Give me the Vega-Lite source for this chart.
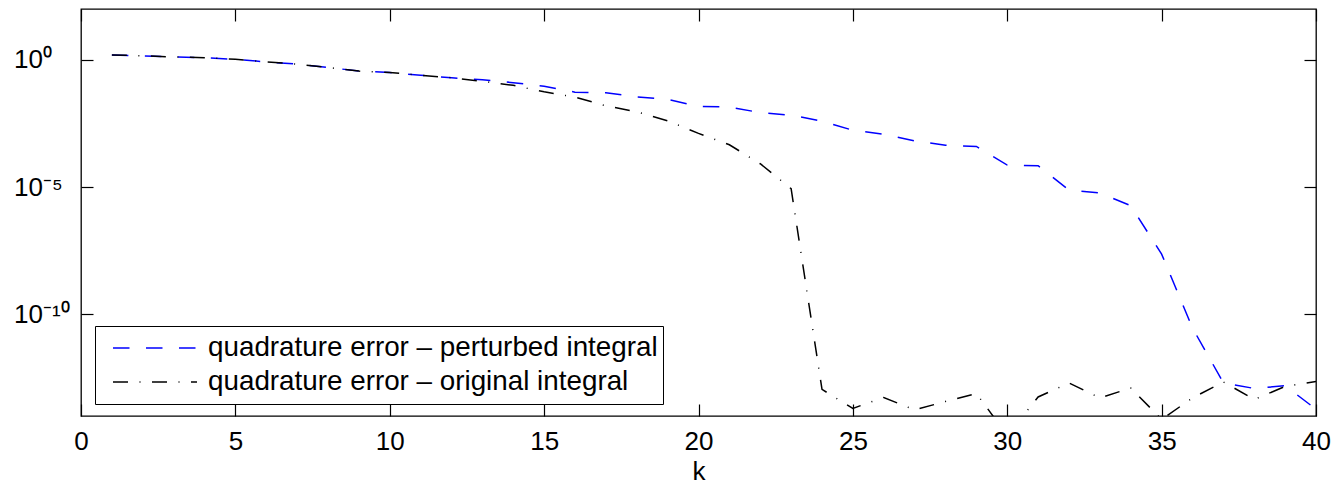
{
  "$schema": "https://vega.github.io/schema/vega-lite/v6.json",
  "width": 1235,
  "height": 407,
  "autosize": {"type": "none"},
  "padding": {"left": 81, "top": 9, "right": 21, "bottom": 72},
  "background": "white",
  "config": {
    "font": "Liberation Sans",
    "view": {"stroke": "black", "strokeWidth": 1.3},
    "axis": {
      "grid": false,
      "domain": false,
      "tickColor": "black",
      "tickSize": -12,
      "tickWidth": 1.2,
      "labelFont": "Liberation Sans",
      "labelFontSize": 26,
      "labelColor": "black",
      "titleFont": "Liberation Sans",
      "titleFontSize": 26,
      "titleFontWeight": "normal",
      "titleColor": "black"
    }
  },
  "data": {
    "values": [
      {"series": "quadrature error – perturbed integral", "k": 1, "err": 1.57},
      {"series": "quadrature error – perturbed integral", "k": 2, "err": 1.44},
      {"series": "quadrature error – perturbed integral", "k": 3, "err": 1.31},
      {"series": "quadrature error – perturbed integral", "k": 4, "err": 1.22},
      {"series": "quadrature error – perturbed integral", "k": 5, "err": 1.05},
      {"series": "quadrature error – perturbed integral", "k": 6, "err": 0.834},
      {"series": "quadrature error – perturbed integral", "k": 7, "err": 0.678},
      {"series": "quadrature error – perturbed integral", "k": 8, "err": 0.504},
      {"series": "quadrature error – perturbed integral", "k": 9, "err": 0.363},
      {"series": "quadrature error – perturbed integral", "k": 10, "err": 0.32},
      {"series": "quadrature error – perturbed integral", "k": 11, "err": 0.248},
      {"series": "quadrature error – perturbed integral", "k": 12, "err": 0.198},
      {"series": "quadrature error – perturbed integral", "k": 13, "err": 0.164},
      {"series": "quadrature error – perturbed integral", "k": 14, "err": 0.127},
      {"series": "quadrature error – perturbed integral", "k": 15, "err": 0.0927},
      {"series": "quadrature error – perturbed integral", "k": 16, "err": 0.0539},
      {"series": "quadrature error – perturbed integral", "k": 17, "err": 0.0506},
      {"series": "quadrature error – perturbed integral", "k": 18, "err": 0.0352},
      {"series": "quadrature error – perturbed integral", "k": 19, "err": 0.0279},
      {"series": "quadrature error – perturbed integral", "k": 20, "err": 0.0149},
      {"series": "quadrature error – perturbed integral", "k": 21, "err": 0.014},
      {"series": "quadrature error – perturbed integral", "k": 22, "err": 0.00845},
      {"series": "quadrature error – perturbed integral", "k": 23, "err": 0.00668},
      {"series": "quadrature error – perturbed integral", "k": 24, "err": 0.00392},
      {"series": "quadrature error – perturbed integral", "k": 25, "err": 0.00171},
      {"series": "quadrature error – perturbed integral", "k": 26, "err": 0.00119},
      {"series": "quadrature error – perturbed integral", "k": 27, "err": 6.48e-4},
      {"series": "quadrature error – perturbed integral", "k": 28, "err": 4.44e-4},
      {"series": "quadrature error – perturbed integral", "k": 29, "err": 3.94e-4},
      {"series": "quadrature error – perturbed integral", "k": 30, "err": 7.35e-5},
      {"series": "quadrature error – perturbed integral", "k": 31, "err": 6.89e-5},
      {"series": "quadrature error – perturbed integral", "k": 32, "err": 7.66e-6},
      {"series": "quadrature error – perturbed integral", "k": 33, "err": 5.83e-6},
      {"series": "quadrature error – perturbed integral", "k": 34, "err": 1.85e-6},
      {"series": "quadrature error – perturbed integral", "k": 35, "err": 2.31e-8},
      {"series": "quadrature error – perturbed integral", "k": 36, "err": 2.87e-11},
      {"series": "quadrature error – perturbed integral", "k": 37, "err": 2.02e-13},
      {"series": "quadrature error – perturbed integral", "k": 38, "err": 1.21e-13},
      {"series": "quadrature error – perturbed integral", "k": 39, "err": 1.55e-13},
      {"series": "quadrature error – perturbed integral", "k": 40, "err": 1.85e-14},
      {"series": "quadrature error – original integral", "k": 1, "err": 1.57},
      {"series": "quadrature error – original integral", "k": 2, "err": 1.44},
      {"series": "quadrature error – original integral", "k": 3, "err": 1.31},
      {"series": "quadrature error – original integral", "k": 4, "err": 1.22},
      {"series": "quadrature error – original integral", "k": 5, "err": 1.05},
      {"series": "quadrature error – original integral", "k": 6, "err": 0.834},
      {"series": "quadrature error – original integral", "k": 7, "err": 0.678},
      {"series": "quadrature error – original integral", "k": 8, "err": 0.504},
      {"series": "quadrature error – original integral", "k": 9, "err": 0.363},
      {"series": "quadrature error – original integral", "k": 10, "err": 0.32},
      {"series": "quadrature error – original integral", "k": 11, "err": 0.248},
      {"series": "quadrature error – original integral", "k": 12, "err": 0.198},
      {"series": "quadrature error – original integral", "k": 13, "err": 0.143},
      {"series": "quadrature error – original integral", "k": 14, "err": 0.0998},
      {"series": "quadrature error – original integral", "k": 15, "err": 0.0555},
      {"series": "quadrature error – original integral", "k": 16, "err": 0.0344},
      {"series": "quadrature error – original integral", "k": 17, "err": 0.0156},
      {"series": "quadrature error – original integral", "k": 18, "err": 0.00908},
      {"series": "quadrature error – original integral", "k": 19, "err": 0.00403},
      {"series": "quadrature error – original integral", "k": 20, "err": 0.00129},
      {"series": "quadrature error – original integral", "k": 21, "err": 4.6e-4},
      {"series": "quadrature error – original integral", "k": 22, "err": 8.26e-5},
      {"series": "quadrature error – original integral", "k": 23, "err": 8.61e-6},
      {"series": "quadrature error – original integral", "k": 24, "err": 1.11e-13},
      {"series": "quadrature error – original integral", "k": 25, "err": 1.99e-14},
      {"series": "quadrature error – original integral", "k": 26, "err": 5.37e-14},
      {"series": "quadrature error – original integral", "k": 27, "err": 1.73e-14},
      {"series": "quadrature error – original integral", "k": 28, "err": 3.73e-14},
      {"series": "quadrature error – original integral", "k": 29, "err": 7.69e-14},
      {"series": "quadrature error – original integral", "k": 30, "err": 1.73e-15},
      {"series": "quadrature error – original integral", "k": 31, "err": 5.61e-14},
      {"series": "quadrature error – original integral", "k": 32, "err": 1.99e-13},
      {"series": "quadrature error – original integral", "k": 33, "err": 5.13e-14},
      {"series": "quadrature error – original integral", "k": 34, "err": 1.26e-13},
      {"series": "quadrature error – original integral", "k": 35, "err": 7.35e-15},
      {"series": "quadrature error – original integral", "k": 36, "err": 5.13e-14},
      {"series": "quadrature error – original integral", "k": 37, "err": 2.18e-13},
      {"series": "quadrature error – original integral", "k": 38, "err": 4.48e-14},
      {"series": "quadrature error – original integral", "k": 39, "err": 1.45e-13},
      {"series": "quadrature error – original integral", "k": 40, "err": 2.28e-13}
    ]
  },
  "layer": [
    {
      "mark": {"type": "line", "clip": true, "strokeWidth": 1.5},
      "encoding": {
        "x": {
          "field": "k", "type": "quantitative",
          "scale": {"domain": [0, 40], "nice": false, "zero": false},
          "axis": {"orient": "bottom", "values": [0, 5, 10, 15, 20, 25, 30, 35, 40], "labelPadding": 24, "labelFlush": false, "labelOverlap": false, "title": "k", "titlePadding": 4}
        },
        "y": {
          "field": "err", "type": "quantitative",
          "scale": {"type": "log", "domain": [1e-14, 100], "nice": false},
          "axis": {"orient": "left", "values": [1, 1e-5, 1e-10], "labelAlign": "left", "labelBaseline": "middle", "labelPadding": 79.5, "labelOverlap": false, "labelFlush": false, "title": null,
                   "labelExpr": "datum.value > 0.1 ? '10⁰' : (datum.value > 1e-7 ? '10⁻⁵' : '10⁻¹⁰')"}
        },
        "color": {
          "field": "series", "type": "nominal",
          "scale": {"domain": ["quadrature error – perturbed integral", "quadrature error – original integral"], "range": ["#0000ff", "#000000"]},
          "legend": {"orient": "none", "legendX": 14, "legendY": 317, "title": null, "symbolType": "stroke", "symbolSize": 7056, "symbolStrokeWidth": 1.5, "symbolOffset": 12, "labelFontSize": 27.8, "labelColor": "black", "labelOffset": 10, "labelLimit": 0, "clipHeight": 34, "rowPadding": 0, "padding": 5, "strokeColor": "black", "fillColor": "white", "cornerRadius": 0}
        },
        "strokeDash": {
          "field": "series", "type": "nominal",
          "scale": {"domain": ["quadrature error – perturbed integral", "quadrature error – original integral"], "range": [[16.5, 16.5], [15, 11.5, 1, 11.5]]},
          "legend": {"orient": "none", "legendX": 14, "legendY": 317, "title": null, "symbolType": "stroke", "symbolSize": 7056, "symbolStrokeWidth": 1.5, "symbolOffset": 12, "labelFontSize": 27.8, "labelColor": "black", "labelOffset": 10, "labelLimit": 0, "clipHeight": 34, "rowPadding": 0, "padding": 5, "strokeColor": "black", "fillColor": "white", "cornerRadius": 0}
        }
      }
    },
    {
      "mark": {"type": "point", "opacity": 0},
      "encoding": {
        "x": {
          "field": "k", "type": "quantitative",
          "axis": {"orient": "top", "values": [0, 5, 10, 15, 20, 25, 30, 35, 40], "labels": false, "title": null}
        },
        "y": {
          "field": "err", "type": "quantitative",
          "axis": {"orient": "right", "values": [1, 1e-5, 1e-10], "labels": false, "title": null}
        }
      }
    }
  ],
  "resolve": {"axis": {"x": "independent", "y": "independent"}}
}
